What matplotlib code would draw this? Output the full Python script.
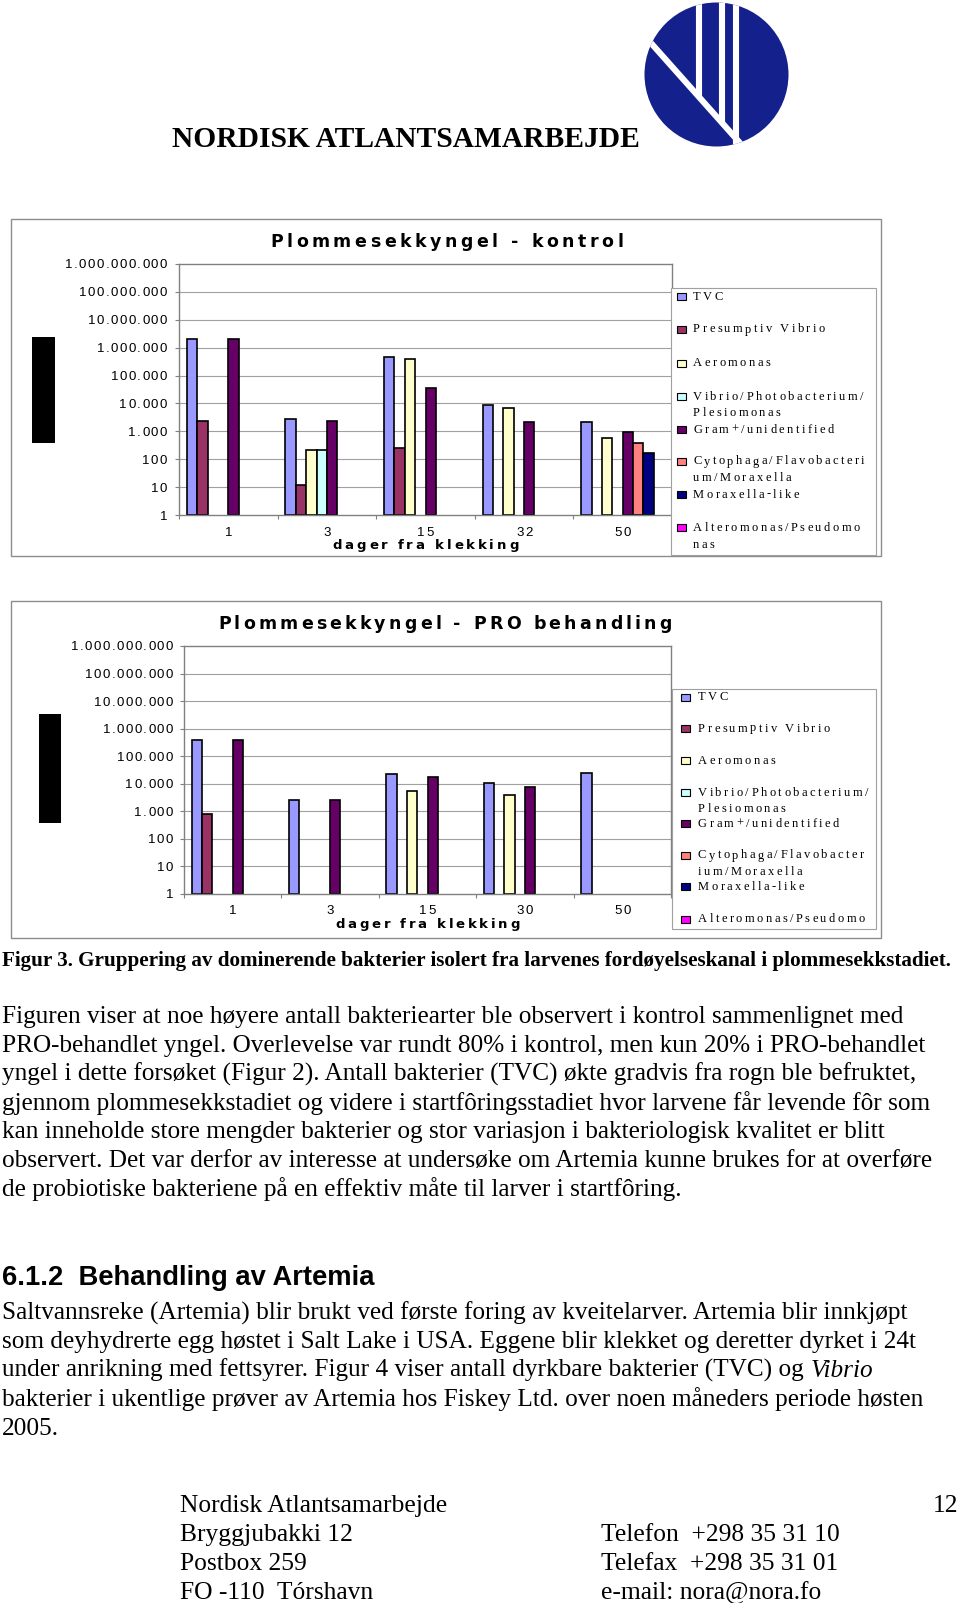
import matplotlib
matplotlib.use('Agg')
import matplotlib.pyplot as plt
from matplotlib.font_manager import FontProperties, findfont, get_font
from matplotlib.patches import Rectangle, Circle
from matplotlib.ticker import NullLocator

W, H = 960, 1603

# ---- values (cfu, log axis) ----
series = ['TVC', 'Presumptiv Vibrio', 'Aeromonas', 'Vibrio/Photobacterium/Plesiomonas',
          'Gram+/unidentified', 'Cytophaga/Flavobacterium/Moraxella', 'Moraxella-like',
          'Alteromonas/Pseudomonas']
colors = ['#9999FF', '#993366', '#FFFFCC', '#CCFFFF', '#660066', '#FF8080', '#000080', '#FF00FF']

days_kontrol = ['1', '3', '15', '32', '50']
kontrol_tvc = [2.1e6, 2700, 4.5e5, 8700, 2100]
kontrol_vibrio = [2300, 12, 260, 0, 0]
kontrol_aero = [0, 215, 3.9e5, 7000, 560]
kontrol_photo = [0, 215, 0, 0, 0]
kontrol_gram = [2.1e6, 2300, 3.6e4, 2100, 970]
kontrol_cyto = [0, 0, 0, 0, 370]
kontrol_morax = [0, 0, 0, 0, 170]
kontrol_altero = [0, 0, 0, 0, 0]

days_pro = ['1', '3', '15', '30', '50']
pro_tvc = [4.0e5, 2550, 2.2e4, 1.1e4, 2.5e4]
pro_vibrio = [790, 0, 0, 0, 0]
pro_aero = [0, 0, 5700, 3900, 0]
pro_photo = [0, 0, 0, 0, 0]
pro_gram = [4.0e5, 2550, 1.7e4, 7700, 0]
pro_cyto = [0, 0, 0, 0, 0]
pro_morax = [0, 0, 0, 0, 0]
pro_altero = [0, 0, 0, 0, 0]

yticks = [1, 10, 100, 1e3, 1e4, 1e5, 1e6, 1e7, 1e8, 1e9]

legend_kontrol = [['TVC'], ['Presumptiv Vibrio'], ['Aeromonas'],
                  ['Vibrio/Photobacterium/', 'Plesiomonas'], ['Gram+/unidentified'],
                  ['Cytophaga/Flavobacteri', 'um/Moraxella'], ['Moraxella-like'],
                  ['Alteromonas/Pseudomo', 'nas']]
legend_pro = [['TVC'], ['Presumptiv Vibrio'], ['Aeromonas'],
              ['Vibrio/Photobacterium/', 'Plesiomonas'], ['Gram+/unidentified'],
              ['Cytophaga/Flavobacter', 'ium/Moraxella'], ['Moraxella-like'],
              ['Alteromonas/Pseudomo']]

header = 'NORDISK ATLANTSAMARBEJDE'
caption = ('Figur 3. Gruppering av dominerende bakterier isolert fra larvenes '
           'fordøyelseskanal i plommesekkstadiet.')
para1 = [
    'Figuren viser at noe høyere antall bakteriearter ble observert i kontrol sammenlignet med',
    'PRO-behandlet yngel. Overlevelse var rundt 80% i kontrol, men kun 20% i PRO-behandlet',
    'yngel i dette forsøket (Figur 2). Antall bakterier (TVC) økte gradvis fra rogn ble befruktet,',
    'gjennom plommesekkstadiet og videre i startfôringsstadiet hvor larvene får levende fôr som',
    'kan inneholde store mengder bakterier og stor variasjon i bakteriologisk kvalitet er blitt',
    'observert. Det var derfor av interesse at undersøke om Artemia kunne brukes for at overføre',
    'de probiotiske bakteriene på en effektiv måte til larver i startfôring.',
]
heading = '6.1.2  Behandling av Artemia'
para2 = [
    'Saltvannsreke (Artemia) blir brukt ved første foring av kveitelarver. Artemia blir innkjøpt',
    'som deyhydrerte egg høstet i Salt Lake i USA. Eggene blir klekket og deretter dyrket i 24t',
    'under anrikning med fettsyrer. Figur 4 viser antall dyrkbare bakterier (TVC) og ',
    'bakterier i ukentlige prøver av Artemia hos Fiskey Ltd. over noen måneders periode høsten',
    '2005.',
]
footer_left = ['Nordisk Atlantsamarbejde', 'Bryggjubakki 12', 'Postbox 259', 'FO -110  Tórshavn']
footer_right = ['', 'Telefon  +298 35 31 10', 'Telefax  +298 35 31 01', 'e-mail: nora@nora.fo']
page_no = '12'

fig = plt.figure(figsize=(W / 100, H / 100), dpi=100)
fig.patch.set_facecolor('white')


def fprop(family, size, weight='normal', style='normal'):
    return FontProperties(family=family, size=size, weight=weight, style=style)


def advances(s, prop):
    font = get_font(findfont(prop))
    font.set_size(prop.get_size_in_points(), 100)
    return [font.load_char(ord(c)).linearHoriAdvance / 65536 for c in s]


def fit(s, family, weight, width):
    return 10 * width / sum(advances(s, fprop(family, 10, weight)))


def put(x, y, s, prop, track=0.0, width=None, ha='left', color='black'):
    # x, y in pixels from top-left, y is the baseline
    adv = advances(s, prop)
    if width is not None and len(s) > 1:
        track = (width - sum(adv)) / (len(s) - 1)
    total = sum(adv) + track * (len(s) - 1)
    if ha == 'right':
        x -= total
    elif ha == 'center':
        x -= total / 2
    if track == 0:
        fig.text(x / W, 1 - y / H, s, fontproperties=prop, va='baseline', color=color)
        return total
    for c, a in zip(s, adv):
        if c != ' ':
            fig.text(x / W, 1 - y / H, c, fontproperties=prop, va='baseline', color=color)
        x += a + track
    return total


def box(l, t, r, b, **kw):
    fig.add_artist(Rectangle((l / W, 1 - b / H), (r - l) / W, (b - t) / H,
                             transform=fig.transFigure, **kw))


tick_prop = fprop('Liberation Sans', 9.5)
tick_track = (102 - sum(advances('1.000.000.000', tick_prop))) / 12
leg_prop = fprop('Liberation Serif', 9)
leg_track = (132 - sum(advances('Presumptiv Vibrio', leg_prop))) / 16
title_prop = fprop('DejaVu Sans', 12.5, 'bold')
xlab_prop = fprop('DejaVu Sans', 9.5, 'bold')

KONTROL = dict(frame=(11, 219, 881, 556), plot=(179, 264, 672, 515),
               title_x=270, title_w=353, title_base=247, ytick_right=167,
               xtick_base=536, xlabel_base=549, xlabel_w=186,
               legend=(671, 288, 876, 555), swatch_x=677, text_x=693,
               rows=[296, 329, 363, 396, 429, 461, 494, 528], blackbox=(32, 337, 55, 443))
PRO = dict(frame=(11, 601, 881, 938), plot=(184, 646, 671, 894),
           title_x=218, title_w=454, title_base=629, ytick_right=173,
           xtick_base=914, xlabel_base=928, xlabel_w=184,
           legend=(672, 689, 876, 929), swatch_x=681, text_x=698,
           rows=[697, 728, 760, 792, 823, 855, 887, 919], blackbox=(39, 714, 61, 823))


def draw_chart(L, cats, values, title, legend_lines):
    box(*L['frame'], fill=False, edgecolor='#8C8C8C', lw=1.0, zorder=-1)
    l, t, r, b = L['plot']
    ax = fig.add_axes([l / W, 1 - b / H, (r - l) / W, (b - t) / H])
    ax.set_yscale('log')
    ax.set_xlim(0, len(cats))
    ax.set_ylim(1, 1e9)
    for v in yticks[1:-1]:
        ax.axhline(v, color='#A0A0A0', lw=0.8, zorder=0)
    bw = 1 / (len(series) + 1.5)
    for i, (vals, col) in enumerate(zip(values, colors)):
        xs = [j + 0.75 * bw + i * bw for j, v in enumerate(vals) if v > 0]
        hs = [v - 1 for v in vals if v > 0]
        if xs:
            ax.bar(xs, hs, bottom=1, width=bw, align='edge', color=col,
                   edgecolor='black', linewidth=1.2, zorder=2)
    for s in ax.spines.values():
        s.set_color('#808080')
        s.set_linewidth(1.0)
    ax.set_yticks(yticks)
    ax.yaxis.set_minor_locator(NullLocator())
    ax.set_xticks(range(len(cats) + 1))
    ax.tick_params(labelleft=False, labelbottom=False, length=3, width=0.8, color='#808080')

    for v in yticks:
        ypx = H - ax.transData.transform((0, v))[1]
        put(L['ytick_right'], ypx + 4.5, f'{int(v):,}'.replace(',', '.'), tick_prop,
            track=tick_track, ha='right')
    for j, c in enumerate(cats):
        xpx = ax.transData.transform((j + 0.5, 1))[0]
        put(xpx, L['xtick_base'], c, tick_prop, track=tick_track, ha='center')

    put(L['title_x'], L['title_base'], title, title_prop, width=L['title_w'])
    put((l + r) / 2, L['xlabel_base'], 'dager fra klekking', xlab_prop,
        width=L['xlabel_w'], ha='center')

    bl, bt, br, bb = L['blackbox']
    box(bl, bt, br, bb, facecolor='black', edgecolor='none')

    box(*L['legend'], facecolor='white', edgecolor='#A0A0A0', lw=0.8, zorder=1)
    for lines, col, yc in zip(legend_lines, colors, L['rows']):
        box(L['swatch_x'], yc - 3.5, L['swatch_x'] + 9, yc + 3.5, facecolor=col,
            edgecolor='black', lw=0.8, zorder=2)
        for k, txt in enumerate(lines):
            put(L['text_x'], yc + 3.5 + 16.5 * k, txt, leg_prop, track=leg_track)
    return ax


draw_chart(KONTROL, days_kontrol,
           [kontrol_tvc, kontrol_vibrio, kontrol_aero, kontrol_photo, kontrol_gram,
            kontrol_cyto, kontrol_morax, kontrol_altero],
           'Plommesekkyngel - kontrol', legend_kontrol)
draw_chart(PRO, days_pro,
           [pro_tvc, pro_vibrio, pro_aero, pro_photo, pro_gram, pro_cyto, pro_morax, pro_altero],
           'Plommesekkyngel - PRO behandling', legend_pro)

# logo
lg = fig.add_axes([630 / W, 1 - 152 / H, 172 / W, 152 / H])
lg.set_xlim(630, 802)
lg.set_ylim(152, 0)
lg.axis('off')
disc = Circle((716.5, 74.5), 72, facecolor='#14208C', edgecolor='none')
lg.add_patch(disc)
for xs, ys in [([640, 748], [30.7, 152]), ([699, 699], [-5, 97]),
               ([721.5, 721.5], [-5, 122]), ([736, 736], [-5, 160])]:
    ln, = lg.plot(xs, ys, color='white', lw=4.4, solid_capstyle='butt')
    ln.set_clip_path(disc)

# page text
put(172, 147, header, fprop('Liberation Serif', fit(header, 'Liberation Serif', 'bold', 470), 'bold'))
put(2, 966, caption, fprop('Liberation Serif', fit(caption, 'Liberation Serif', 'bold', 951), 'bold'))

body = fprop('Liberation Serif', fit(para1[0], 'Liberation Serif', 'normal', 902))
body_it = fprop('Liberation Serif', body.get_size_in_points(), style='italic')
for line, base in zip(para1, [1023, 1052, 1081, 1110, 1138, 1167, 1196]):
    put(2, base, line, body)

put(2, 1285, heading, fprop('Liberation Sans', fit(heading, 'Liberation Sans', 'bold', 372), 'bold'))
for k, (line, base) in enumerate(zip(para2, [1320, 1348, 1377, 1406, 1435])):
    w = put(2, base, line, body)
    if k == 2:
        put(2 + w, base, 'Vibrio', body_it)

foot = fprop('Liberation Serif', fit(footer_left[0], 'Liberation Serif', 'normal', 268))
for a, b2, base in zip(footer_left, footer_right, [1512, 1541, 1570, 1599]):
    put(180, base, a, foot)
    if b2:
        put(601, base, b2, foot)
put(958, 1512, page_no, foot, ha='right')

fig.savefig('out.png', dpi=100, facecolor='white')
